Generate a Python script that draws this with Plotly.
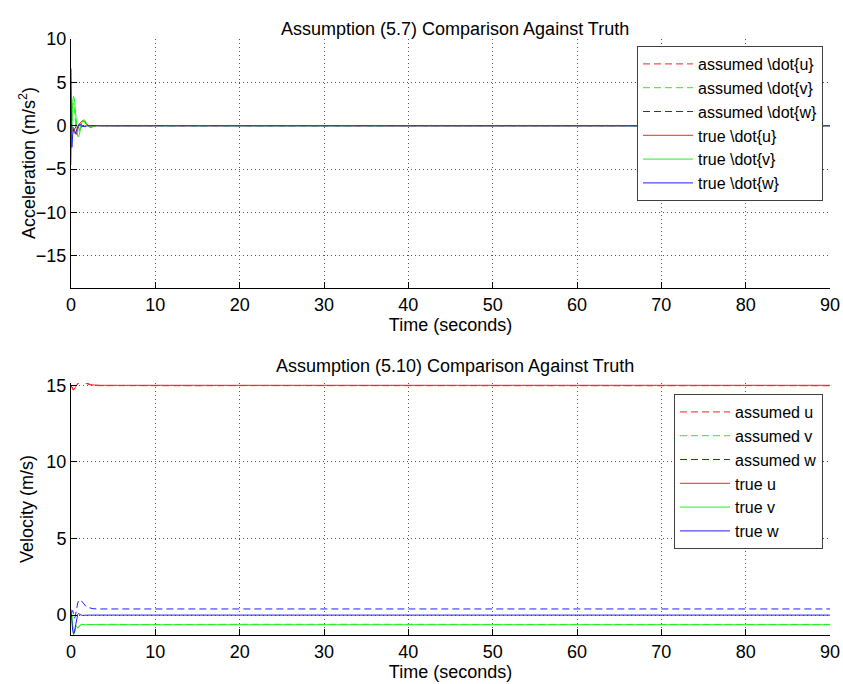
import plotly.graph_objects as go

# ---- time base (s) ----
t = [0, 0.1, 0.2, 0.3, 0.4, 0.5, 0.6, 0.7, 0.8, 0.9, 1.0, 1.2, 1.4, 1.6, 1.8,
     2.0, 2.3, 2.6, 3.0, 3.5, 4, 5, 7, 10, 15, 20, 30, 40, 50, 60, 70, 80, 90]

# ---- accelerations (m/s^2) ----
assumed_udot = [0, -0.2, -0.5, -0.6, -0.3, 0.1, 0.2, -0.1, -0.5, -0.7, -0.6, -0.2, 0.2, 0.35,
                0.3, 0.1, -0.1, -0.05, 0.02, 0, 0.01, -0.02, 0, 0.01, -0.01, 0, 0.01, 0, -0.01, 0, 0.01, 0, 0]
assumed_vdot = [-2.0, 0.5, 2.2, 2.6, 2.0, 0.8, -0.4, -1.0, -1.1, -0.8, -0.4, 0.2, 0.5, 0.45,
                0.2, -0.05, -0.15, -0.05, 0.03, 0, -0.02, 0.01, 0, -0.01, 0.01, 0, -0.01, 0, 0.01, 0, -0.01, 0, 0]
assumed_wdot = [0.5, -0.4, -0.7, -0.6, -0.4, -0.3, -0.1, 0.1, 0.2, 0.15, 0.05, -0.05, -0.1,
                -0.05, 0.02, 0.03, 0, -0.01, 0, 0, 0.01, 0, -0.01, 0, 0.01, 0, 0, -0.01, 0, 0.01, 0, 0, 0]
true_udot = [0, -0.3, -0.6, -0.2, -0.5, -0.9, -1.0, -0.8, -0.4, 0.0, 0.2, 0.45, 0.6, 0.55,
             0.3, -0.05, -0.2, -0.1, 0.02, 0, 0, 0, 0, 0, 0, 0, 0, 0, 0, 0, 0, 0, 0]
true_vdot = [-4.5, 0.5, 2.8, 3.4, 3.1, 2.0, 0.6, -0.6, -1.2, -1.3, -1.0, 0.1, 0.6, 0.7,
             0.4, 0.0, -0.2, -0.1, 0.03, 0, 0, 0, 0, 0, 0, 0, 0, 0, 0, 0, 0, 0, 0]
true_wdot = [6.6, -2.5, -1.0, -0.4, -0.8, -0.9, -0.7, -0.4, -0.1, 0.1, 0.2, 0.15, 0.0,
             -0.1, -0.05, 0.02, 0.02, 0, 0, 0, 0, 0, 0, 0, 0, 0, 0, 0, 0, 0, 0, 0, 0]

# ---- velocities (m/s) ----
assumed_u = [15.0, 14.9, 14.78, 14.72, 14.74, 14.82, 14.92, 15.02, 15.12, 15.2, 15.25, 15.28,
             15.25, 15.18, 15.12, 15.07, 15.03, 15.0, 14.98, 14.98, 14.97, 14.98, 14.97, 14.98,
             14.97, 14.98, 14.97, 14.98, 14.97, 14.98, 14.97, 14.98, 14.97]
assumed_v = [0.3, 0.0, -0.7, -1.2, -1.15, -0.9, -0.72, -0.75, -0.82, -0.78, -0.7, -0.62,
             -0.6, -0.63, -0.64, -0.62, -0.6, -0.62, -0.61, -0.6, -0.61, -0.6, -0.62, -0.6,
             -0.61, -0.6, -0.62, -0.6, -0.61, -0.6, -0.62, -0.6, -0.61]
assumed_w = [0.1, 0.2, 0.3, 0.1, -0.2, -0.1, 0.3, 0.6, 0.8, 0.95, 1.0, 0.95, 0.8, 0.65,
             0.55, 0.5, 0.45, 0.42, 0.4, 0.4, 0.41, 0.4, 0.4, 0.41, 0.4, 0.39, 0.4, 0.41,
             0.4, 0.39, 0.4, 0.41, 0.4]
true_u = [15.0, 14.85, 14.72, 14.7, 14.75, 14.85, 14.95, 15.05, 15.15, 15.22, 15.27, 15.3,
          15.28, 15.22, 15.15, 15.1, 15.05, 15.02, 15.0, 15.0, 15.0, 15.0, 15.0, 15.0, 15.0,
          15.0, 15.0, 15.0, 15.0, 15.0, 15.0, 15.0, 15.0]
true_v = [0.4, 0.0, -0.8, -1.3, -1.2, -0.9, -0.7, -0.75, -0.85, -0.8, -0.7, -0.6, -0.62,
          -0.65, -0.63, -0.62, -0.63, -0.64, -0.63, -0.63, -0.63, -0.63, -0.63, -0.63,
          -0.63, -0.63, -0.63, -0.63, -0.63, -0.63, -0.63, -0.63, -0.63]
true_w = [0.3, -0.5, -1.0, -1.2, -1.15, -0.8, -0.4, -0.1, 0.05, 0.1, 0.05, 0.0, -0.02,
          0.0, 0.0, 0.0, 0.0, 0.0, 0.0, 0.0, 0.0, 0.0, 0.0, 0.0, 0.0, 0.0, 0.0, 0.0, 0.0,
          0.0, 0.0, 0.0, 0.0]

RED, GREEN, BLUE = "#ff2020", "#20f020", "#2020ff"
DASH = "7px,4px"
FONT = "Liberation Sans, Arial, sans-serif"
FS = 18
LEG_FS = 16

fig = go.Figure()

acc_series = [
    ("assumed \\dot{u}", assumed_udot, RED, DASH),
    ("assumed \\dot{v}", assumed_vdot, GREEN, DASH),
    ("assumed \\dot{w}", assumed_wdot, BLUE, DASH),
    ("true \\dot{u}", true_udot, RED, "solid"),
    ("true \\dot{v}", true_vdot, GREEN, "solid"),
    ("true \\dot{w}", true_wdot, BLUE, "solid"),
]
for name, y, c, d in acc_series:
    fig.add_trace(go.Scatter(x=t, y=y, name=name, mode="lines",
                             line=dict(color=c, width=1, dash=d),
                             xaxis="x", yaxis="y", legend="legend"))

vel_series = [
    ("assumed u", assumed_u, RED, DASH),
    ("assumed v", assumed_v, GREEN, DASH),
    ("assumed w", assumed_w, BLUE, DASH),
    ("true u", true_u, RED, "solid"),
    ("true v", true_v, GREEN, "solid"),
    ("true w", true_w, BLUE, "solid"),
]
for name, y, c, d in vel_series:
    fig.add_trace(go.Scatter(x=t, y=y, name=name, mode="lines",
                             line=dict(color=c, width=1, dash=d),
                             xaxis="x2", yaxis="y2", legend="legend2"))

W, H = 843, 684
xdom = [71 / W, 830 / W]

axis_common = dict(
    showline=True, linecolor="black", linewidth=1, mirror=False,
    ticks="inside", ticklen=6, tickcolor="black",
    showgrid=True, gridcolor="#555555", griddash="1px,3px", gridwidth=1,
    zeroline=False, tickfont=dict(size=FS, color="black", family=FONT),
    automargin=False,
)

legend_style = dict(xanchor="right", yanchor="top", itemwidth=50,
                    bgcolor="white", bordercolor="#404040", borderwidth=1,
                    font=dict(size=LEG_FS, family=FONT, color="black"))

ytitle = dict(xref="paper", yref="paper", showarrow=False, textangle=-90,
              xanchor="center", yanchor="middle", font=dict(size=FS))

fig.update_layout(
    width=W, height=H,
    margin=dict(l=0, r=0, t=0, b=0),
    paper_bgcolor="white", plot_bgcolor="white",
    font=dict(family=FONT, size=FS, color="black"),
    xaxis=dict(domain=xdom, range=[0, 90], dtick=10, anchor="y",
               title=dict(text="Time (seconds)", standoff=2, font=dict(size=FS)),
               **axis_common),
    yaxis=dict(domain=[(H - 288) / H, (H - 39) / H], range=[-18.7, 10], dtick=5,
               anchor="x", **axis_common),
    xaxis2=dict(domain=xdom, range=[0, 90], dtick=10, anchor="y2",
                title=dict(text="Time (seconds)", standoff=2, font=dict(size=FS)),
                **axis_common),
    yaxis2=dict(domain=[(H - 635) / H, (H - 383) / H], range=[-1.3, 15.15], dtick=5,
                anchor="x2", **axis_common),
    legend=dict(x=823 / W, y=(H - 46) / H, **legend_style),
    legend2=dict(x=823 / W, y=(H - 394) / H, **legend_style),
    annotations=[
        dict(text="Assumption (5.7) Comparison Against Truth", x=455 / W, y=(H - 17) / H,
             xref="paper", yref="paper", showarrow=False, font=dict(size=FS)),
        dict(text="Assumption (5.10) Comparison Against Truth", x=455 / W, y=(H - 366) / H,
             xref="paper", yref="paper", showarrow=False, font=dict(size=FS)),
        dict(text="Acceleration (m/s<sup>2</sup>)", x=27 / W, y=(H - 163) / H, **ytitle),
        dict(text="Velocity (m/s)", x=27 / W, y=(H - 509) / H, **ytitle),
    ],
)

fig.write_html("out.html")
